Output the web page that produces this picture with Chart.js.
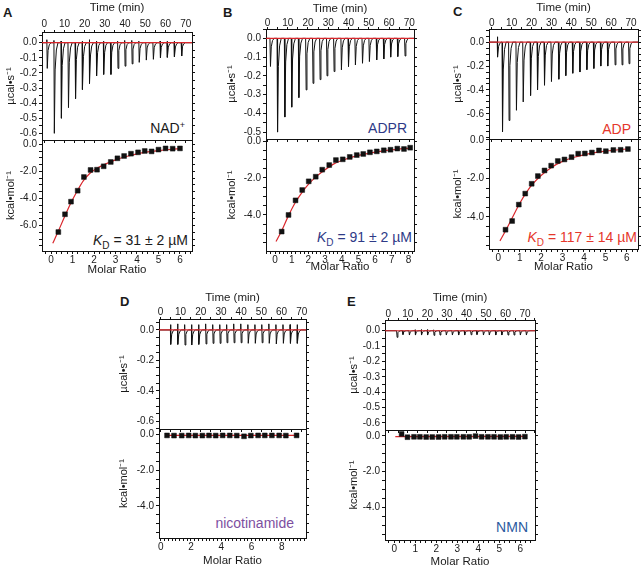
<!DOCTYPE html>
<html>
<head>
<meta charset="utf-8">
<script src="https://cdn.jsdelivr.net/npm/chart.js@4.4.1/dist/chart.umd.min.js"></script>
<style>
  body { margin: 0; width: 642px; height: 569px; position: relative; overflow: hidden; background: #fff;
         font-family: "Liberation Sans", Arial, sans-serif; color: #1a1a1a; }
  canvas { position: absolute; }
  .letter { position: absolute; font-weight: bold; font-size: 13px; line-height: 13px; }
  .note { position: absolute; font-size: 14px; line-height: 14px; white-space: nowrap; }
  .note sub { font-size: 10px; vertical-align: -4px; line-height: 0; }
  .note sup { font-size: 9px; vertical-align: 5px; line-height: 0; }
</style>
</head>
<body>
<div class="letter" style="left:3px;top:6px">A</div>
<div class="letter" style="left:223px;top:6px">B</div>
<div class="letter" style="left:453px;top:5px">C</div>
<div class="letter" style="left:120px;top:295px">D</div>
<div class="letter" style="left:347px;top:295px">E</div>

<div class="note" style="right:457px;top:121px">NAD<sup>+</sup></div>
<div class="note" style="right:454px;top:233px"><i>K</i><sub>D</sub> = 31 ± 2 µM</div>
<div class="note" style="right:235px;top:121px;color:#2e3a87">ADPR</div>
<div class="note" style="right:230px;top:230px;color:#2e3a87"><i>K</i><sub>D</sub> = 91 ± 2 µM</div>
<div class="note" style="right:11px;top:122px;color:#e5372b">ADP</div>
<div class="note" style="right:5px;top:230px;color:#e5372b"><i>K</i><sub>D</sub> = 117 ± 14 µM</div>
<div class="note" style="right:348px;top:516px;color:#7d4f9f">nicotinamide</div>
<div class="note" style="right:114px;top:520px;color:#2c5aa0">NMN</div>

<script>
// ---- data ----
const timeTicks = [0, 10, 20, 30, 40, 50, 60, 70];

// A: NAD+
const injA  = [1.3, 4.8, 8.3, 11.8, 15.3, 18.8, 22.3, 25.8, 29.3, 32.8, 36.3, 39.8, 43.3, 46.8, 50.3, 53.8, 57.3, 60.8, 64.3, 67.8];
const peakA = [-0.17, -0.60, -0.50, -0.43, -0.37, -0.31, -0.27, -0.22, -0.21, -0.21, -0.17, -0.155, -0.14, -0.13, -0.115, -0.11, -0.10, -0.097, -0.093, -0.088];
const bumpA = [0.02, 0.015, 0.01, 0, 0, 0.01, 0.02, 0.01, 0.01, 0, 0.01, 0.015, 0.015, 0.01, 0, 0, 0.01, 0.01, 0.01, 0];
const ratioA = [0.34, 0.65, 0.93, 1.24, 1.53, 1.84, 2.14, 2.45, 2.78, 3.09, 3.40, 3.72, 4.05, 4.36, 4.68, 5.00, 5.33, 5.66, 6.00];
const heatA  = [-6.47, -5.16, -4.23, -3.42, -2.41, -1.89, -1.87, -1.62, -1.30, -1.03, -0.86, -0.69, -0.59, -0.49, -0.52, -0.39, -0.30, -0.32, -0.30];
const fitXA = [0.08, 0.3, 0.6, 0.9, 1.2, 1.5, 1.8, 2.1, 2.5, 3.0, 3.5, 4.0, 4.5, 5.0, 5.5, 6.05];
const fitYA = [-7.30, -6.55, -5.45, -4.40, -3.50, -2.70, -2.15, -1.80, -1.48, -1.15, -0.90, -0.70, -0.56, -0.46, -0.38, -0.32];

// B: ADPR
const injB  = [1.3, 4.8, 8.4, 11.8, 15.3, 18.9, 22.3, 25.8, 29.2, 32.7, 36.3, 39.8, 43.2, 46.7, 50.1, 53.7, 57.2, 60.6, 64.1, 67.7];
const peakB = [-0.15, -0.50, -0.42, -0.367, -0.316, -0.275, -0.24, -0.22, -0.20, -0.177, -0.168, -0.15, -0.142, -0.133, -0.124, -0.115, -0.11, -0.10, -0.097, -0.094];
const bumpB = [0, 0, 0, 0, 0, 0, 0, 0, 0, 0, 0, 0, 0, 0, 0, 0, 0, 0, 0, 0];
const ratioB = [0.40, 0.81, 1.23, 1.63, 2.02, 2.44, 2.83, 3.25, 3.65, 4.06, 4.48, 4.90, 5.29, 5.69, 6.10, 6.52, 6.92, 7.33, 7.73, 8.10];
const heatB  = [-4.90, -4.00, -3.21, -2.65, -2.18, -1.93, -1.55, -1.30, -1.03, -0.99, -0.86, -0.76, -0.70, -0.61, -0.56, -0.50, -0.47, -0.41, -0.43, -0.36];
const fitXB = [0.06, 0.4, 0.8, 1.2, 1.6, 2.0, 2.5, 3.0, 3.5, 4.0, 5.0, 6.0, 7.0, 8.1];
const fitYB = [-5.44, -4.85, -4.05, -3.35, -2.80, -2.35, -1.90, -1.55, -1.25, -1.05, -0.78, -0.60, -0.48, -0.38];

// C: ADP
const injC  = [2.8, 5.2, 8.5, 12.2, 15.6, 19.3, 22.8, 26.3, 29.8, 33.5, 37.0, 40.5, 44.1, 47.6, 51.1, 54.6, 58.1, 61.8, 65.3, 68.8];
const peakC = [-0.125, -0.75, -0.655, -0.57, -0.50, -0.446, -0.40, -0.36, -0.33, -0.31, -0.28, -0.26, -0.25, -0.23, -0.22, -0.20, -0.20, -0.19, -0.19, -0.18];
const bumpC = [0.045, 0, 0, 0, 0, 0, 0, 0, 0, 0, 0, 0, 0, 0, 0, 0, 0, 0, 0, 0];
const ratioC = [0.34, 0.65, 0.96, 1.26, 1.56, 1.85, 2.16, 2.47, 2.78, 3.09, 3.42, 3.73, 4.04, 4.37, 4.70, 5.02, 5.37, 5.71, 6.05];
const heatC  = [-4.66, -4.21, -3.36, -2.79, -2.28, -1.88, -1.59, -1.34, -1.10, -1.02, -0.90, -0.72, -0.71, -0.66, -0.55, -0.59, -0.53, -0.52, -0.48];
const fitXC = [0.08, 0.35, 0.65, 1.0, 1.3, 1.6, 2.0, 2.5, 3.0, 3.5, 4.0, 4.5, 5.0, 5.5, 6.05];
const fitYC = [-5.24, -4.70, -4.05, -3.30, -2.75, -2.30, -1.85, -1.42, -1.12, -0.92, -0.78, -0.67, -0.59, -0.53, -0.47];

// D: nicotinamide
const injD  = [5.0, 8.5, 12.0, 15.4, 18.9, 22.4, 25.9, 29.4, 32.8, 36.3, 39.8, 43.3, 46.8, 50.2, 53.7, 57.2, 60.7, 64.2, 67.7];
const peakD = [-0.095, -0.095, -0.099, -0.099, -0.095, -0.092, -0.088, -0.088, -0.084, -0.084, -0.084, -0.088, -0.088, -0.084, -0.088, -0.092, -0.088, -0.088, -0.088];
const bumpD = [0.035, 0.04, 0.035, 0.035, 0.035, 0.04, 0.035, 0.035, 0.035, 0.04, 0.04, 0.035, 0.035, 0.035, 0.04, 0.035, 0.035, 0.035, 0.035];
const ratioD = [0.42, 0.88, 1.39, 1.85, 2.29, 2.75, 3.19, 3.63, 4.09, 4.56, 5.02, 5.50, 5.95, 6.43, 6.87, 7.34, 7.82, 8.26, 8.97];
const heatD  = [-0.04, -0.05, -0.05, -0.04, -0.05, -0.05, -0.04, -0.05, -0.04, -0.04, -0.05, -0.09, -0.05, -0.04, -0.04, -0.04, -0.04, -0.05, -0.04];
const fitXD = [0.42, 8.97];
const fitYD = [-0.04, -0.04];

// E: NMN
const injE  = [4.3, 7.3, 10.6, 13.7, 16.9, 20.0, 23.2, 26.3, 29.5, 32.6, 35.8, 38.9, 42.2, 45.2, 48.5, 51.5, 54.8, 57.9, 61.1, 64.2, 67.4, 70.5];
const peakE = [-0.043, -0.025, -0.028, -0.028, -0.028, -0.028, -0.03, -0.028, -0.028, -0.028, -0.028, -0.028, -0.026, -0.025, -0.028, -0.028, -0.028, -0.028, -0.028, -0.028, -0.028, -0.028];
const bumpE = [0, 0, 0, 0.006, 0.008, 0.008, 0.006, 0, 0, 0, 0, 0, 0, 0, 0, 0, 0, 0, 0, 0, 0, 0];
const ratioE = [0.35, 0.63, 0.94, 1.22, 1.52, 1.81, 2.11, 2.40, 2.70, 2.98, 3.29, 3.57, 3.87, 4.16, 4.46, 4.75, 5.05, 5.33, 5.63, 5.92, 6.22];
const heatE  = [0.10, -0.08, -0.06, -0.06, -0.07, -0.07, -0.07, -0.06, -0.06, -0.06, -0.06, -0.06, -0.02, -0.06, -0.06, -0.06, -0.07, -0.06, -0.06, -0.07, -0.05];
const fitXE = [0.05, 6.3];
const fitYE = [-0.05, -0.03];

// ---- drawing ----
Chart.defaults.font.family = '"Liberation Sans", Arial, sans-serif';
Chart.defaults.color = '#1a1a1a';
const RED = '#d9262b';
const AXW = 44, RW = 6;

function tickList(min, max, step) {
  const out = [];
  for (let k = Math.ceil(min / step - 1e-9); k * step <= max + 1e-9; k++) out.push(Math.round(k * step * 1e4) / 1e4);
  return out;
}

function axis(o) {
  const list = tickList(o.min, o.max, o.minor);
  return {
    type: 'linear', axis: o.axis, position: o.pos, min: o.min, max: o.max,
    afterBuildTicks: s => { s.ticks = list.map(v => ({value: v})); },
    afterFit: s => { if (o.axis === 'x') s.height = o.size; else s.width = o.size; },
    grid: {drawOnChartArea: false, drawTicks: o.tl > 0, tickLength: o.tl || 0, color: '#111', lineWidth: 1},
    border: {display: true, color: '#111', width: 1},
    ticks: {
      display: !!o.labels, autoSkip: false, maxRotation: 0, minRotation: 0, padding: o.pad || 0,
      font: {size: 10}, color: '#1a1a1a',
      callback: v => (o.labels && o.labels.some(m => Math.abs(m - v) < 1e-6)) ? v.toFixed(o.digits) : ''
    },
    title: {display: !!o.title, text: o.title || '', font: {size: o.tsize || 11.5}, color: '#1a1a1a', padding: o.tpad || 0}
  };
}

// raw thermogram: baseline with one spike per injection
function trace(inj, peak, bump, range) {
  const pts = [{x: range[0], y: 0}];
  inj.forEach((t, i) => {
    pts.push({x: t - 0.05, y: 0});
    if (bump[i]) pts.push({x: t, y: bump[i]});
    pts.push({x: t + 0.2, y: peak[i]});
    pts.push({x: t + 0.6, y: peak[i] * 0.3});
    pts.push({x: t + 1.2, y: peak[i] * 0.08});
    pts.push({x: t + 2.0, y: 0});
  });
  pts.push({x: range[1], y: 0});
  return pts;
}

const xy = (xs, ys) => xs.map((x, i) => ({x, y: ys[i]}));

function makeChart(box, topH, botH, datasets, scales) {
  const cv = document.createElement('canvas');
  const w = box[2] - box[0] + AXW + RW, h = box[3] - box[1] + topH + botH;
  cv.width = w; cv.height = h;
  cv.style.left = (box[0] - AXW) + 'px';
  cv.style.top = (box[1] - topH) + 'px';
  cv.style.width = w + 'px'; cv.style.height = h + 'px';
  document.body.appendChild(cv);
  return new Chart(cv, {
    type: 'scatter',
    data: {datasets},
    options: {
      responsive: false, animation: false, devicePixelRatio: 1, events: [],
      layout: {padding: 0},
      plugins: {legend: {display: false}, tooltip: {enabled: false}},
      scales
    }
  });
}

function drawPanel(p) {
  // upper plot: power vs time
  makeChart(p.boxTop, 31, 10, [
    {data: [{x: p.time[0], y: 0}, {x: p.time[1], y: 0}], showLine: true, borderColor: RED, borderWidth: 1.2, pointRadius: 0},
    {data: trace(p.inj, p.peak, p.bump, p.time), showLine: true, borderColor: '#111', borderWidth: 1, pointRadius: 0}
  ], {
    x: axis({axis: 'x', pos: 'top', min: p.time[0], max: p.time[1], minor: 5, labels: timeTicks, digits: 0,
             size: 31, tl: 2, pad: p.timePad, title: 'Time (min)', tpad: {top: p.timeTitlePad, bottom: 0}}),
    x2: axis({axis: 'x', pos: 'bottom', min: p.time[0], max: p.time[1], minor: 5, size: 10, tl: 3}),
    y: axis({axis: 'y', pos: 'left', min: p.power[0], max: p.power[1], minor: p.powerMinor, labels: p.powerTicks, digits: 1,
             size: AXW, tl: 3, pad: 2, title: 'µcal•s⁻¹', tsize: 11, tpad: {top: p.yPad, bottom: 0}}),
    y2: axis({axis: 'y', pos: 'right', min: p.power[0], max: p.power[1], minor: p.powerMinor, size: RW, tl: 3})
  });
  // lower plot: integrated heats vs molar ratio
  makeChart(p.boxBot, 10, 32, [
    {data: xy(p.ratio, p.heat), backgroundColor: '#111', borderColor: '#111', borderWidth: 0.5, pointStyle: 'rect', pointRadius: 3.4},
    {data: xy(p.fitX, p.fitY), showLine: true, borderColor: RED, borderWidth: 1.2, pointRadius: 0, cubicInterpolationMode: 'monotone'}
  ], {
    x: axis({axis: 'x', pos: 'bottom', min: p.ratioRange[0], max: p.ratioRange[1], minor: 0.25, labels: p.ratioTicks, digits: 0,
             size: 32, tl: 3, pad: 0, title: 'Molar Ratio', tpad: {top: 0, bottom: p.molarPad}}),
    x2: axis({axis: 'x', pos: 'top', min: p.ratioRange[0], max: p.ratioRange[1], minor: 0.25, size: 10, tl: 0}),
    y: axis({axis: 'y', pos: 'left', min: p.heatRange[0], max: p.heatRange[1], minor: 0.5, labels: p.heatTicks, digits: 1,
             size: AXW, tl: 3, pad: 2, title: 'kcal•mol⁻¹', tsize: 11, tpad: {top: p.yPad - 0.5, bottom: 0}}),
    y2: axis({axis: 'y', pos: 'right', min: p.heatRange[0], max: p.heatRange[1], minor: 0.5, size: RW, tl: 3})
  });
}

drawPanel({
  boxTop: [42, 32, 192, 140], boxBot: [42, 140, 192, 251],
  time: [-1.1, 73.1], timePad: 0, timeTitlePad: 0, yPad: 6.5,
  power: [-0.644, 0.071], powerMinor: 0.05, powerTicks: [0, -0.1, -0.2, -0.3, -0.4, -0.5, -0.6],
  inj: injA, peak: peakA, bump: bumpA,
  ratioRange: [-0.42, 6.56], ratioTicks: [0, 1, 2, 3, 4, 5, 6], molarPad: 6.4,
  heatRange: [-7.87, 0.32], heatTicks: [0, -2, -4, -6],
  ratio: ratioA, heat: heatA, fitX: fitXA, fitY: fitYA
});
drawPanel({
  boxTop: [266, 29, 414, 139], boxBot: [266, 139, 414, 251],
  time: [-0.7, 72.3], timePad: -2, timeTitlePad: 3.5, yPad: 3.5,
  power: [-0.537, 0.05], powerMinor: 0.05, powerTicks: [0, -0.1, -0.2, -0.3, -0.4, -0.5],
  inj: injB, peak: peakB, bump: bumpB,
  ratioRange: [-0.54, 8.33], ratioTicks: [0, 1, 2, 3, 4, 5, 6, 7, 8], molarPad: 8.9,
  heatRange: [-5.95, 0.11], heatTicks: [0, -2, -4],
  ratio: ratioB, heat: heatB, fitX: fitXB, fitY: fitYB
});
drawPanel({
  boxTop: [489, 29, 638, 139], boxBot: [489, 139, 638, 249],
  time: [-1.4, 73.5], timePad: -2, timeTitlePad: 2.7, yPad: 6.5,
  power: [-0.81, 0.11], powerMinor: 0.05, powerTicks: [0, -0.2, -0.4, -0.6],
  inj: injC, peak: peakC, bump: bumpC,
  ratioRange: [-0.43, 6.52], ratioTicks: [0, 1, 2, 3, 4, 5, 6], molarPad: 6.9,
  heatRange: [-5.66, 0.04], heatTicks: [0, -2, -4],
  ratio: ratioC, heat: heatC, fitX: fitXC, fitY: fitYC
});
drawPanel({
  boxTop: [159, 319, 306, 429], boxBot: [159, 429, 306, 538],
  time: [-0.7, 72.1], timePad: -1.7, timeTitlePad: 3.2, yPad: 2.5,
  power: [-0.651, 0.072], powerMinor: 0.05, powerTicks: [0, -0.2, -0.4, -0.6],
  inj: injD, peak: peakD, bump: bumpD,
  ratioRange: [-0.11, 9.59], ratioTicks: [0, 2, 4, 6, 8], molarPad: 1.9,
  heatRange: [-5.8, 0.32], heatTicks: [0, -2, -4],
  ratio: ratioD, heat: heatD, fitX: fitXD, fitY: fitYD
});
drawPanel({
  boxTop: [385, 320, 535, 430], boxBot: [385, 430, 535, 540],
  time: [-1.7, 75.1], timePad: -2.7, timeTitlePad: 2.2, yPad: 6.5,
  power: [-0.647, 0.07], powerMinor: 0.05, powerTicks: [0, -0.1, -0.2, -0.3, -0.4, -0.5, -0.6],
  inj: injE, peak: peakE, bump: bumpE,
  ratioRange: [-0.44, 6.7], ratioTicks: [0, 1, 2, 3, 4, 5, 6], molarPad: 3.7,
  heatRange: [-5.8, 0.32], heatTicks: [0, -2, -4],
  ratio: ratioE, heat: heatE, fitX: fitXE, fitY: fitYE
});
</script>
</body>
</html>
